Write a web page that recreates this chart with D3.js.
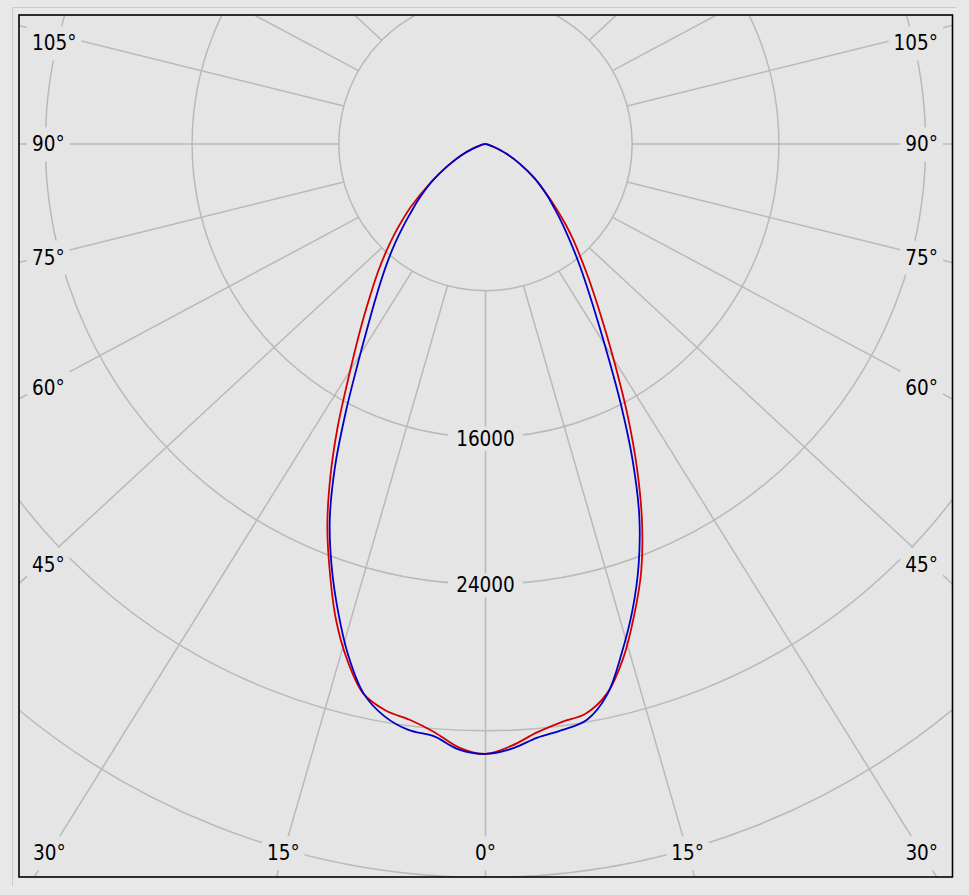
<!DOCTYPE html>
<html><head><meta charset="utf-8">
<script src="https://cdn.jsdelivr.net/npm/d3@7"></script>
<style>body{margin:0;background:#e8e8e8;} svg{display:block;}</style>
</head><body><svg id="chart" width="969" height="895"></svg>
<script>
// ---- DATA ----
const gammaDeg = [0,2.5,5,7.5,10,12.5,15,17.5,20,22.5,25,27.5,30,32.5,35,37.5,40,42.5,45,47.5,50,55,60,65,70,75,80,85,90];
const redLeft   = [33263,32947,32184,31671,31366,30717,29130,27145,24822,22537,20018,17493,15094,13175,11604,10263,9134,8076,7100,6156,5284,3583,2361,1472,736,327,136,44,0];
const redRight  = [33263,32843,32211,31797,31535,30673,29026,26954,24822,22303,19565,16850,14330,12258,10590,9232,8065,7078,6151,5262,4499,3272,2165,1265,518,218,82,27,0];
const blueLeft  = [33263,33056,32418,32227,31693,30700,28895,26736,24528,22194,19418,16523,14009,12062,10557,9330,8250,7263,6347,5508,4837,3583,2361,1472,736,327,136,44,0];
const blueRight = [33263,33007,32495,32227,31878,30728,28721,26654,24418,21910,18960,15972,13360,11342,9772,8523,7433,6511,5715,5000,4411,3272,2165,1265,518,218,82,27,0];
const ringValues = [8000,16000,24000,32000,40000];
const ringLabels = [16000,24000];
const spokeAngles = d3.range(-165, 181, 15);
const labelAngles = [0,15,30,45,60,75,90,105];

// ---- LAYOUT ----
const W = 969, H = 895;
const frame = {x0:19, y0:15, x1:952.5, y1:877};
const cx = 485.5, cy = 144;
const rScale = d3.scaleLinear().domain([0, 8000]).range([0, 146.7]);
const spokeStretch = 1.08;
const plotBg = "#e5e5e5", gridColor = "#b9b9b9";
const font = "'DejaVu Sans Condensed', 'DejaVu Sans', sans-serif", fontSize = 20.5;

const svg = d3.select("#chart");
svg.append("rect").attr("width", W).attr("height", H).attr("fill", "#e8e8e8");
svg.append("path").attr("d", "M12.5,886 V7.5 H956").attr("fill", "none").attr("stroke", "#cbcbcb").attr("stroke-width", 1);

svg.append("defs").append("clipPath").attr("id", "clip").append("rect")
  .attr("x", frame.x0).attr("y", frame.y0).attr("width", frame.x1 - frame.x0).attr("height", frame.y1 - frame.y0);
svg.append("rect").attr("x", frame.x0).attr("y", frame.y0).attr("width", frame.x1 - frame.x0).attr("height", frame.y1 - frame.y0).attr("fill", plotBg);

const g = svg.append("g").attr("clip-path", "url(#clip)");
const plot = g.append("g").attr("transform", `translate(${cx},${cy})`);

// rings
plot.selectAll("circle.ring").data(ringValues).join("circle").attr("class", "ring")
  .attr("r", d => rScale(d)).attr("fill", "none").attr("stroke", gridColor).attr("stroke-width", 1.5);

// spokes
function spoke(a) {
  const t = a * Math.PI / 180;
  const r0 = rScale(ringValues[0]);
  const p0 = [r0 * Math.sin(t), r0 * Math.cos(t)];
  let d = [spokeStretch * Math.sin(t), Math.cos(t)];
  const n = Math.hypot(d[0], d[1]); d = [d[0] / n, d[1] / n];
  return {p0, d};
}
plot.selectAll("line.spoke").data(spokeAngles).join("line").attr("class", "spoke")
  .each(function(a) {
    const s = spoke(a);
    d3.select(this).attr("x1", s.p0[0]).attr("y1", s.p0[1])
      .attr("x2", s.p0[0] + 2000 * s.d[0]).attr("y2", s.p0[1] + 2000 * s.d[1]);
  })
  .attr("stroke", gridColor).attr("stroke-width", 1.5);

// curves
const lineR = d3.lineRadial().angle(d => d.a).radius(d => rScale(d.v)).curve(d3.curveCatmullRom.alpha(0.5));
function series(left, right) {
  const pts = [];
  for (let i = gammaDeg.length - 1; i >= 0; i--) pts.push({a: Math.PI + gammaDeg[i] * Math.PI / 180, v: left[i]});
  for (let i = 1; i < gammaDeg.length; i++) pts.push({a: Math.PI - gammaDeg[i] * Math.PI / 180, v: right[i]});
  return pts;
}
plot.append("path").attr("d", lineR(series(redLeft, redRight))).attr("fill", "none").attr("stroke", "#d40000").attr("stroke-width", 1.8);
plot.append("path").attr("d", lineR(series(blueLeft, blueRight))).attr("fill", "none").attr("stroke", "#0000c8").attr("stroke-width", 1.8);

// labels
function addLabel(parent, x, y, text, anchor, padX, padY) {
  const grp = parent.append("g");
  const rect = grp.append("rect").attr("fill", plotBg);
  const t = grp.append("text").attr("x", x).attr("y", y).attr("dy", "0.36em")
    .attr("text-anchor", anchor).attr("font-family", font).attr("font-stretch", "condensed")
    .attr("font-size", fontSize).attr("fill", "#000").text(text);
  const b = t.node().getBBox();
  rect.attr("x", b.x - padX).attr("y", b.y - padY).attr("width", b.width + 2 * padX).attr("height", b.height + 2 * padY);
}
const labelLayer = svg.append("g").attr("clip-path", "url(#clip)");
ringLabels.forEach(v => addLabel(labelLayer, cx, cy + rScale(v) + 1, d3.format("d")(v), "middle", 8, 0));

const inset = {left: 40, right: 931, bottom: 853, top: 43};
labelAngles.forEach(a => {
  [-1, 1].forEach(side => {
    if (a === 0 && side === 1) return;
    const ang = a * side;
    const s = spoke(ang);
    const px = cx + s.p0[0], py = cy + s.p0[1];
    const cands = [];
    if (s.d[0] < 0) cands.push({t: (inset.left - px) / s.d[0], edge: "left"});
    if (s.d[0] > 0) cands.push({t: (inset.right - px) / s.d[0], edge: "right"});
    if (s.d[1] > 0) cands.push({t: (inset.bottom - py) / s.d[1], edge: "bottom"});
    const hit = cands.reduce((m, c) => c.t < m.t ? c : m);
    let x = px + hit.t * s.d[0], y = py + hit.t * s.d[1];
    y = Math.max(inset.top, Math.min(inset.bottom, y));
    const txt = a + "°";
    if (hit.edge === "left") addLabel(labelLayer, 32, y, txt, "start", 5, 5);
    else if (hit.edge === "right") addLabel(labelLayer, 938, y, txt, "end", 5, 5);
    else addLabel(labelLayer, x, y, txt, "middle", 5, 5);
  });
});

// frame
svg.append("rect").attr("x", frame.x0).attr("y", frame.y0).attr("width", frame.x1 - frame.x0).attr("height", frame.y1 - frame.y0)
  .attr("fill", "none").attr("stroke", "#000").attr("stroke-width", 1.6);
</script></body></html>
